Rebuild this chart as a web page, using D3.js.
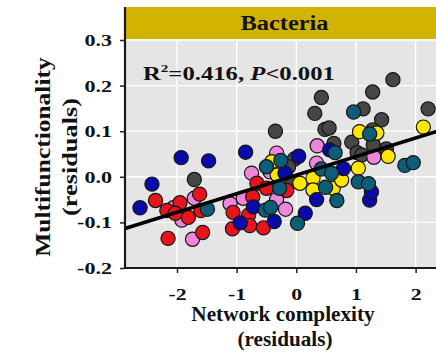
<!DOCTYPE html>
<html>
<head>
<meta charset="utf-8">
<script src="https://cdn.jsdelivr.net/npm/d3@7"></script>
<style>
  body { margin: 0; background: #fff; }
  text { font-family: "Liberation Serif", "Times New Roman", serif; font-weight: bold; fill: #111; }
</style>
</head>
<body>
<div id="container"></div>
<script>
// residual pairs [network complexity, multifunctionality], one array per colour group
const grayPts = [[-1.71,-0.006],[-0.35,0.100],[-0.03,0.039],[-0.13,0.022],[-0.08,-0.011],[0.42,0.174],
  [0.31,0.139],[0.48,0.104],[0.55,0.107],[0.63,0.073],[0.93,0.076],[1.12,0.149],[1.28,0.186],[1.62,0.213],
  [1.43,0.125],[2.21,0.149],[1.28,0.103],[1.29,0.070],[1.51,0.061],[1.02,0.053],[1.10,0.048]];
const pinkPts = [[-1.71,-0.047],[-2.06,-0.068],[-1.92,-0.095],[-1.74,-0.137],[-1.11,-0.059],[-0.89,-0.047],
  [-0.75,0.008],[-0.33,0.052],[-0.33,-0.050],[-0.18,-0.071],[0.35,0.068],[0.34,0.030],[1.30,0.043],[-0.44,0.011]];
const redPts = [[-2.36,-0.052],[-2.17,-0.074],[-1.95,-0.057],[-1.62,-0.038],[-2.03,-0.080],[-1.81,-0.089],
  [-1.60,-0.074],[-2.15,-0.135],[-1.57,-0.122],[-0.66,-0.014],[-0.73,-0.044],[-1.06,-0.078],[-0.80,-0.084],
  [-1.07,-0.114],[-0.78,-0.107],[-0.55,-0.112],[-0.50,-0.025],[-0.16,-0.030]];
const yellowPts = [[-0.41,0.033],[-0.32,0.004],[0.06,-0.014],[0.28,-0.003],[0.28,-0.029],[0.62,-0.025],
  [0.76,-0.007],[1.04,0.019],[1.06,0.099],[2.13,0.109],[1.54,0.045],[1.35,0.096]];
const bluePts = [[-1.93,0.042],[-1.47,0.035],[-0.85,0.054],[-2.42,-0.016],[-2.62,-0.068],[-0.72,-0.066],
  [-0.94,-0.101],[-0.37,-0.098],[-0.19,0.008],[0.04,0.045],[0.79,0.018],[0.34,-0.050],[0.15,-0.080],
  [1.23,-0.051],[1.26,-0.033],[0.56,0.059]];
const tealPts = [[-1.49,-0.071],[-0.52,-0.073],[-0.43,-0.067],[-0.26,0.036],[-0.50,0.022],[-0.28,-0.025],
  [0.02,-0.102],[0.96,0.142],[1.23,0.094],[0.65,0.053],[0.42,0.017],[0.59,0.008],[0.49,-0.023],
  [0.68,-0.052],[1.04,-0.011],[1.21,-0.015],[1.82,0.025],[1.96,0.031]];

const xTicks = [-2, -1, 0, 1, 2];
const yTicks = [-0.2, -0.1, 0.0, 0.1, 0.2, 0.3];
const panelTitle = "Bacteria";
const fitIntercept = 0.0036;
const fitSlope = 0.0407;

const groups = [
  { pts: grayPts, color: "#464646" },
  { pts: pinkPts, color: "#ee86dc" },
  { pts: redPts, color: "#e8141b" },
  { pts: yellowPts, color: "#ffe600" },
  { pts: bluePts, color: "#0a0aaa" },
  { pts: tealPts, color: "#0d5d78" }
];

const W = 436, H = 352;
const padL = 125, padR = 444, padT = 39, padB = 268, stripTop = 7;

const svg = d3.select("#container").append("svg")
  .attr("width", W)
  .attr("height", H);

const x = d3.scaleLinear().domain([-2, 2]).range([177, 415.6]);
const y = d3.scaleLinear().domain([-0.2, 0.3]).range([268, 40]);

// stretch a text horizontally so its width hits the one measured on the picture
let fitText = (sel, ax, ay, target, rot) => {
  let w = sel.node().getBBox().width;
  let k = target / w;
  sel.attr("transform", `translate(${ax},${ay})${rot ? " rotate(-90)" : ""} scale(${k},1)`);
};

// panel + grid
svg.append("rect")
  .attr("x", padL).attr("y", padT)
  .attr("width", padR - padL).attr("height", padB - padT)
  .attr("fill", "#e5e5e5");

svg.append("g").selectAll("line").data(xTicks).join("line")
  .attr("x1", d => x(d)).attr("x2", d => x(d))
  .attr("y1", padT).attr("y2", padB)
  .attr("stroke", "#fff").attr("stroke-width", 1.4);

svg.append("g").selectAll("line").data(yTicks).join("line")
  .attr("x1", padL).attr("x2", padR)
  .attr("y1", d => y(d)).attr("y2", d => y(d))
  .attr("stroke", "#fff").attr("stroke-width", 1.4);

// strip
svg.append("rect")
  .attr("x", padL).attr("y", stripTop)
  .attr("width", padR - padL).attr("height", padT - stripTop)
  .attr("fill", "#d2b400");

let strip = svg.append("text")
  .attr("text-anchor", "middle")
  .attr("font-size", 22)
  .text(panelTitle);
fitText(strip, (padL + padR) / 2, 30, 88);

// points
groups.forEach(g => {
  svg.append("g").selectAll("circle").data(g.pts).join("circle")
    .attr("cx", d => x(d[0]))
    .attr("cy", d => y(d[1]))
    .attr("r", 7.1)
    .attr("fill", g.color)
    .attr("stroke", "#151515")
    .attr("stroke-width", 1.2);
});

// fitted line
let xs = [x.invert(padL), x.invert(padR)];
svg.append("path")
  .datum(xs.map(v => [v, fitIntercept + fitSlope * v]))
  .attr("d", d3.line().x(d => x(d[0])).y(d => y(d[1])))
  .attr("stroke", "#000")
  .attr("stroke-width", 3.6)
  .attr("fill", "none");

// stat label
let stat = svg.append("text").attr("font-size", 18);
stat.append("tspan").text("R");
stat.append("tspan").attr("font-size", 11).attr("dy", -8).text("2");
stat.append("tspan").attr("dy", 8).text("=0.416, ");
stat.append("tspan").attr("font-style", "italic").text("P");
stat.append("tspan").text("<0.001");
fitText(stat, 143, 80, 192);

// axes
let yAxis = svg.append("g")
  .attr("transform", `translate(${padL},0)`)
  .call(d3.axisLeft(y).tickValues(yTicks).tickSize(5).tickFormat(d => d.toFixed(1)));
yAxis.select(".domain").remove();
yAxis.selectAll("line").attr("stroke", "#222").attr("stroke-width", 1.5);
yAxis.selectAll("text")
  .attr("font-size", 17)
  .attr("x", 0)
  .attr("transform", "translate(-13,0) scale(1.3,1)");

let xAxis = svg.append("g")
  .attr("transform", `translate(0,${padB})`)
  .call(d3.axisBottom(x).tickValues(xTicks).tickSize(5).tickPadding(15).tickFormat(d => String(d)));
xAxis.select(".domain").remove();
xAxis.selectAll("line").attr("stroke", "#222").attr("stroke-width", 1.5);
xAxis.selectAll("text")
  .attr("font-size", 17)
  .attr("transform", "scale(1.28,1)");

svg.append("line")
  .attr("x1", padL).attr("x2", padL)
  .attr("y1", stripTop).attr("y2", padB + 1)
  .attr("stroke", "#1a1a1a").attr("stroke-width", 2.2);
svg.append("line")
  .attr("x1", padL - 1).attr("x2", padR)
  .attr("y1", padB).attr("y2", padB)
  .attr("stroke", "#1a1a1a").attr("stroke-width", 2.2);

// axis titles
let xt1 = svg.append("text").attr("text-anchor", "middle").attr("font-size", 21).text("Network complexity");
fitText(xt1, 283, 321, 184);
let xt2 = svg.append("text").attr("text-anchor", "middle").attr("font-size", 20).text("(residuals)");
fitText(xt2, 285, 346, 95);

let yt1 = svg.append("text").attr("text-anchor", "middle").attr("font-size", 21).text("Multifunctionality");
fitText(yt1, 50, 157, 200, true);
let yt2 = svg.append("text").attr("text-anchor", "middle").attr("font-size", 21).text("(residuals)");
fitText(yt2, 77, 157, 118, true);
</script>
</body>
</html>
